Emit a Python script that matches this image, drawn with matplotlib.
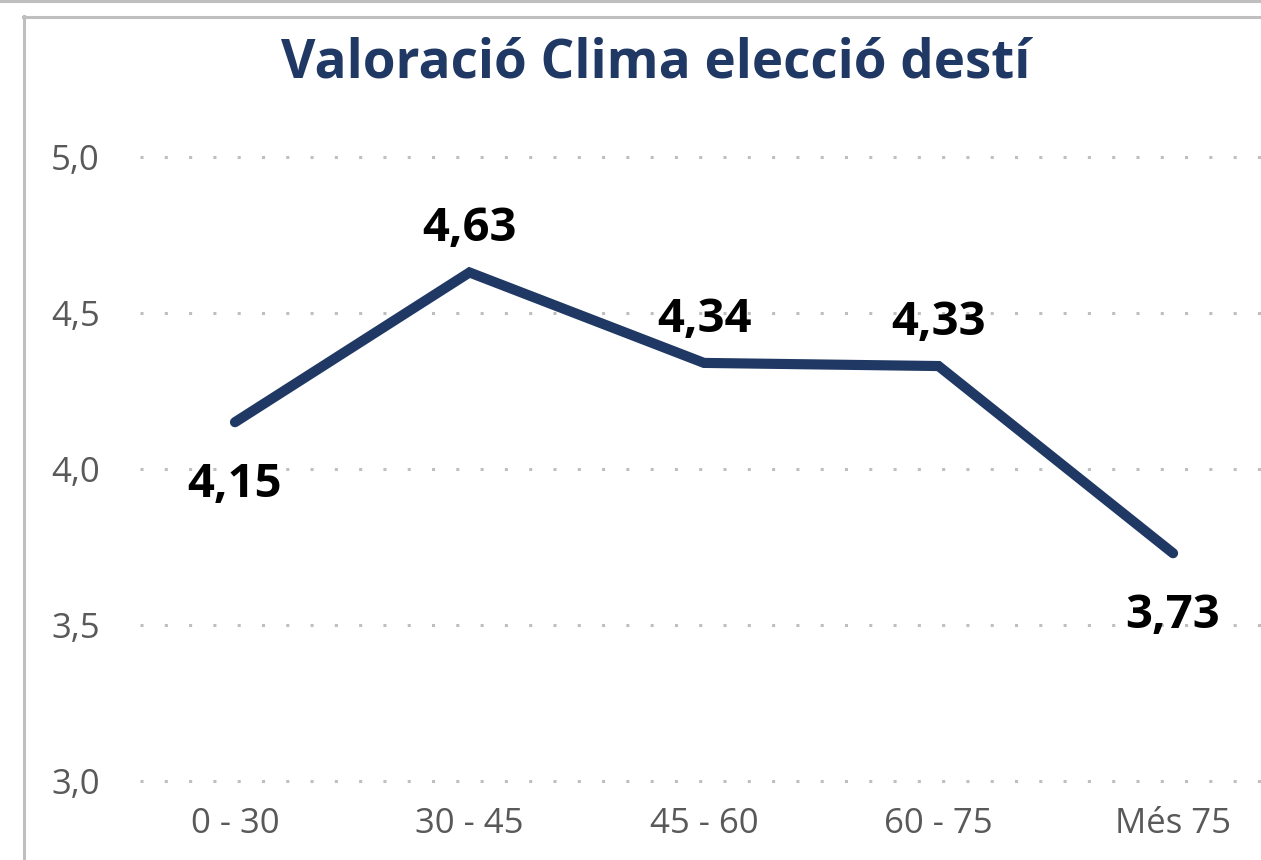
import matplotlib
matplotlib.use("Agg")
import matplotlib.pyplot as plt
from matplotlib.lines import Line2D

categories = ["0 - 30", "30 - 45", "45 - 60", "60 - 75", "Més 75"]
values = [4.15, 4.63, 4.34, 4.33, 3.73]
labels = ["4,15", "4,63", "4,34", "4,33", "3,73"]
label_above = [False, True, True, True, False]
yticks = [3.0, 3.5, 4.0, 4.5, 5.0]
ytick_labels = ["3,0", "3,5", "4,0", "4,5", "5,0"]
title = "Valoració Clima elecció destí"

plt.rcParams['font.family'] = ['Open Sans', 'DejaVu Sans']

W, H = 1261, 860
fig = plt.figure(figsize=(W / 100, H / 100), dpi=100)

# axes in pixel terms
ppu_y = 312.0
y_top_px = 157 - 0.02 * ppu_y
y_bot_px = 781 + 0.02 * ppu_y
left_px = 140
ax = fig.add_axes([left_px / W, (H - y_bot_px) / H, (W - left_px) / W, (y_bot_px - y_top_px) / H])
ax.set_ylim(2.98, 5.02)
ax.set_xlim(-0.405, 4.375)

navy = "#203864"
ax.plot(range(len(values)), values, color=navy, linewidth=7.3, solid_capstyle='round',
        solid_joinstyle='miter', zorder=3)

for i, (v, lab, up) in enumerate(zip(values, labels, label_above)):
    off = 22.3 if up else -54
    ax.annotate(lab, (i, v), xytext=(0, off), textcoords='offset points',
                ha='center', va='baseline', fontsize=34, fontweight='bold', color='black',
                zorder=4)

ax.set_yticks(yticks)
ax.set_yticklabels(ytick_labels)
ax.set_xticks(range(len(categories)))
ax.set_xticklabels(categories)
ax.tick_params(axis='y', length=0, pad=29, labelsize=25, labelcolor='#595959')
ax.tick_params(axis='x', length=0, pad=14, labelsize=25, labelcolor='#595959')
for s in ax.spines.values():
    s.set_visible(False)
ax.yaxis.grid(True, color='#BFBFBF', linewidth=2.2, linestyle=(0, (1, 6.95)),
              dash_capstyle='butt')
ax.set_axisbelow(True)

fig.text(656 / W, 1 - 78 / H, title, ha='center', va='baseline', fontsize=38.2,
         fontweight='bold', color=navy)

# frame decorations
fig.add_artist(Line2D([0, 1], [1 - 1 / H, 1 - 1 / H], transform=fig.transFigure,
                      color='#BFBFBF', linewidth=2.2))
fig.add_artist(Line2D([22.5 / W, 1], [1 - 17 / H, 1 - 17 / H], transform=fig.transFigure,
                      color='#BFBFBF', linewidth=2.2))
fig.add_artist(Line2D([23.5 / W, 23.5 / W], [0, 1 - 16 / H], transform=fig.transFigure,
                      color='#BFBFBF', linewidth=2.2))

fig.savefig("out.png", dpi=100)
